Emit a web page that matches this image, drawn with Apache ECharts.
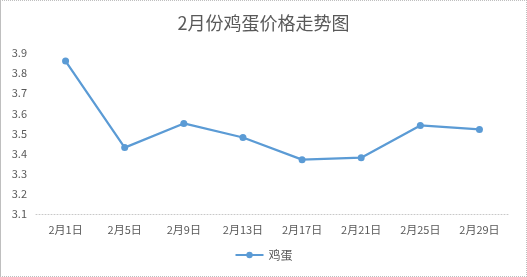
<!DOCTYPE html>
<html><head><meta charset="utf-8">
<script src="https://cdn.jsdelivr.net/npm/echarts@6/dist/echarts.min.js"></script>
<style>
html,body{margin:0;padding:0;background:#fff;}
#wrap{width:527px;height:277px;box-sizing:border-box;border:1px dotted #bfbfbf;border-left:1px solid #bfbfbf;}
#c{width:525px;height:275px;}
</style></head><body>
<div id="wrap"><div id="c"></div></div>
<script>
var categories = ['2月1日','2月5日','2月9日','2月13日','2月17日','2月21日','2月25日','2月29日'];
var eggPrices = [3.86, 3.43, 3.55, 3.48, 3.37, 3.38, 3.54, 3.52];
var seriesName = '鸡蛋';
var titleText = '2月份鸡蛋价格走势图';
var ff = '"Noto Sans CJK SC", "Noto Sans", sans-serif';
var chart = echarts.init(document.getElementById('c'));
chart.setOption({
  animation: false,
  title: {text: titleText, left: 'center', top: 8,
    textStyle: {fontFamily: ff, fontSize: 18, fontWeight: 'normal', color: '#595959'}},
  grid: {left: 35, right: 17, top: 52, bottom: 62},
  legend: {bottom: 10, left: 'center', itemWidth: 28, itemHeight: 8, itemGap: 4,
    textStyle: {fontFamily: ff, fontSize: 12, color: '#595959'},
    data: [seriesName]},
  xAxis: {type: 'category', data: categories, boundaryGap: true,
    axisLine: {lineStyle: {color: '#c8c8c8', type: [1, 2], width: 1}},
    axisTick: {show: false},
    axisLabel: {fontFamily: ff, fontSize: 11, color: '#595959', margin: 10}},
  yAxis: {type: 'value', min: 3.1, max: 3.9, interval: 0.1,
    axisLine: {show: false}, axisTick: {show: false}, splitLine: {show: false},
    axisLabel: {fontFamily: ff, fontSize: 11, color: '#595959', margin: 9,
      formatter: function(v){return v.toFixed(1);}}},
  series: [{name: seriesName, type: 'line', data: eggPrices,
    symbol: 'circle', symbolSize: 7,
    lineStyle: {color: '#5B9BD5', width: 2.25},
    itemStyle: {color: '#5B9BD5'}}]
});
</script>
</body></html>
